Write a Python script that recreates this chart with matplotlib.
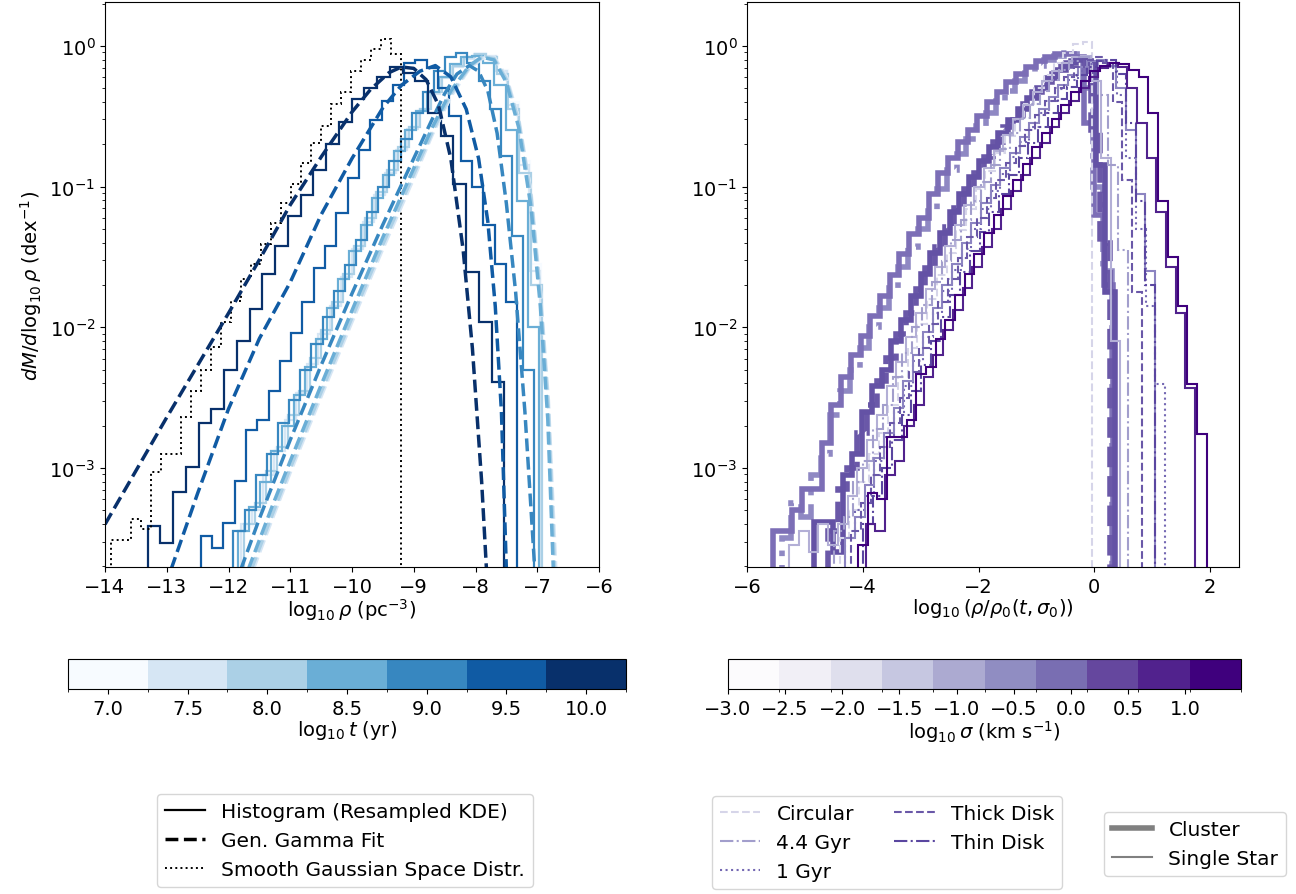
import numpy as np
import matplotlib
matplotlib.use("Agg")
import matplotlib.pyplot as plt
from matplotlib.colors import ListedColormap, BoundaryNorm
from matplotlib.cm import ScalarMappable
from matplotlib.lines import Line2D

plt.rcParams['font.family'] = ['DejaVu Sans']
plt.rcParams['font.size'] = 14

# ---------------- data: left panel (log10 t colour) ----------------
t_vals = [7.0, 7.5, 8.0, 8.5, 9.0, 9.5, 10.0]
t_bounds = [6.75, 7.25, 7.75, 8.25, 8.75, 9.25, 9.75, 10.25]

# histograms: (start edge, bin width, log10 values)
h100_start, h100_width = -13.31, 0.2064
h100_log = [-3.41, -3.53, -3.17, -2.99, -2.68, -2.58, -2.30, -2.10, -1.87, -1.62, -1.42, -1.21, -1.06, -0.88,
            -0.70, -0.54, -0.38, -0.30, -0.22, -0.15, -0.19, -0.25, -0.48, -0.64, -0.98, -1.61, -1.96, -2.39]
h95_start, h95_width = -12.45, 0.183
h95_log = [-3.48, -3.57, -3.39, -3.09, -2.73, -2.66, -2.45, -2.24, -2.04, -1.82, -1.58, -1.42, -1.19, -0.94,
           -0.74, -0.53, -0.39, -0.28, -0.12, -0.10, -0.16, -0.30, -0.50, -0.82, -1.00, -1.27, -1.55, -1.82]
h90_start, h90_width = -11.92, 0.1804
h90_log = [-3.45, -3.30, -3.05, -2.90, -2.68, -2.52, -2.30, -2.12, -1.93, -1.74, -1.56, -1.38, -1.18, -1.00,
           -0.82, -0.66, -0.48, -0.33, -0.18, -0.08, -0.05, -0.12, -0.25, -0.45, -0.78, -1.35, -2.30]
h85_start, h85_width = -11.85, 0.1807
h85_log = [-3.45, -3.28, -3.10, -2.88, -2.70, -2.48, -2.28, -2.08, -1.86, -1.66, -1.46, -1.27, -1.08, -0.92,
           -0.75, -0.60, -0.46, -0.33, -0.22, -0.13, -0.08, -0.07, -0.12, -0.28, -0.60, -1.10, -2.00]
h80_start, h80_width = -11.75, 0.1785
h80_log = [-3.40, -3.25, -3.02, -2.85, -2.62, -2.45, -2.22, -2.02, -1.82, -1.62, -1.42, -1.22, -1.04, -0.88,
           -0.72, -0.58, -0.45, -0.33, -0.22, -0.14, -0.08, -0.06, -0.08, -0.20, -0.45, -0.90, -1.70]
h75_start, h75_width = -11.80, 0.1796
h75_log = [-3.40, -3.30, -3.05, -2.88, -2.66, -2.47, -2.26, -2.05, -1.85, -1.64, -1.44, -1.25, -1.06, -0.90,
           -0.74, -0.59, -0.46, -0.34, -0.23, -0.15, -0.09, -0.06, -0.07, -0.18, -0.42, -0.85, -1.60]
h70_start, h70_width = -11.78, 0.1793
h70_log = [-3.42, -3.28, -3.04, -2.86, -2.64, -2.46, -2.25, -2.04, -1.84, -1.63, -1.43, -1.24, -1.05, -0.89,
           -0.73, -0.58, -0.45, -0.33, -0.22, -0.14, -0.08, -0.05, -0.07, -0.17, -0.40, -0.82, -1.55]

# generalised gamma fits, sampled (x = log10 rho, y = log10 dM/dlogrho)
fit100_x = [-14.0, -13.5, -13.0, -12.5, -12.0, -11.5, -11.0, -10.5, -10.0, -9.7, -9.4, -9.2, -9.0, -8.8, -8.6,
            -8.4, -8.2, -8.05, -7.9, -7.8]
fit100_y = [-3.40, -3.02, -2.64, -2.27, -1.90, -1.52, -1.13, -0.79, -0.47, -0.31, -0.19, -0.15, -0.16, -0.24,
            -0.42, -0.80, -1.45, -2.15, -3.10, -3.90]
fit95_x = [-12.93, -12.5, -12.0, -11.5, -11.0, -10.5, -10.0, -9.5, -9.2, -8.9, -8.65, -8.4, -8.15, -7.95, -7.8,
           -7.68, -7.58, -7.50]
fit95_y = [-3.72, -3.18, -2.58, -2.08, -1.68, -1.20, -0.80, -0.44, -0.28, -0.18, -0.14, -0.22, -0.45, -0.80,
           -1.25, -1.85, -2.60, -3.72]
fit90_x = [-11.80, -11.5, -11.0, -10.5, -10.0, -9.5, -9.0, -8.7, -8.5, -8.3, -8.1, -7.95, -7.8, -7.65, -7.5,
           -7.35, -7.2, -7.04]
fit90_y = [-3.72, -3.36, -2.80, -2.27, -1.76, -1.27, -0.80, -0.52, -0.34, -0.20, -0.14, -0.18, -0.32, -0.62,
           -1.12, -1.75, -2.60, -3.72]
fit85_x = [-11.68, -11.3, -11.0, -10.5, -10.0, -9.5, -9.0, -8.7, -8.4, -8.1, -7.9, -7.7, -7.5, -7.3, -7.1,
           -6.95, -6.83, -6.74]
fit85_y = [-3.72, -3.28, -2.95, -2.41, -1.88, -1.36, -0.87, -0.58, -0.32, -0.14, -0.08, -0.10, -0.26, -0.58,
           -1.15, -1.85, -2.65, -3.72]
fit80_x = [-11.63, -11.3, -11.0, -10.5, -10.0, -9.5, -9.0, -8.7, -8.4, -8.1, -7.9, -7.7, -7.5, -7.3, -7.1,
           -6.95, -6.82, -6.72]
fit80_y = [-3.72, -3.34, -3.00, -2.46, -1.93, -1.41, -0.91, -0.61, -0.34, -0.15, -0.08, -0.09, -0.24, -0.54,
           -1.08, -1.78, -2.58, -3.72]
fit75_x = [-11.60, -11.3, -11.0, -10.5, -10.0, -9.5, -9.0, -8.7, -8.4, -8.1, -7.9, -7.7, -7.5, -7.3, -7.1,
           -6.95, -6.82, -6.70]
fit75_y = [-3.72, -3.37, -3.03, -2.49, -1.96, -1.44, -0.94, -0.63, -0.36, -0.16, -0.09, -0.08, -0.22, -0.52,
           -1.05, -1.74, -2.52, -3.72]
fit70_x = fit75_x
fit70_y = fit75_y

# smooth gaussian space distribution (dotted black)
gauss_start, gauss_width = -13.91, 0.1621
gauss_log = [-3.51, -3.51, -3.36, -3.43, -3.03, -2.90, -2.90, -2.64, -2.45, -2.30, -2.14, -1.96, -1.81, -1.66,
             -1.55, -1.41, -1.26, -1.12, -0.98, -0.83, -0.69, -0.57, -0.41, -0.33, -0.18, -0.10, -0.02, 0.05, -0.06]

# ---------------- data: right panel (log10 sigma colour) ----------------
sigma_ticks = [-3.0, -2.5, -2.0, -1.5, -1.0, -0.5, 0.0, 0.5, 1.0]
sigma_lo, sigma_hi, sigma_nbins = -3.0, 1.49, 10

# cluster (thick) histograms
c1_start, c1_width = -5.55, 0.168
c1_log = [-3.45, -3.45, -3.30, -3.15, -3.15, -2.82, -2.55, -2.35, -2.20, -2.06, -1.92, -1.78, -1.63, -1.48,
          -1.34, -1.22, -1.05, -0.90, -0.80, -0.68, -0.60, -0.50, -0.40, -0.33, -0.26, -0.20, -0.15, -0.11,
          -0.08, -0.06, -0.06, -0.08, -0.55, -1.20, -1.70]
c2_start, c2_width = -4.85, 0.168
c2_log = [-3.38, -3.38, -3.60, -3.05, -2.90, -2.60, -2.42, -2.30, -2.10, -1.95, -1.78, -1.62, -1.47, -1.33,
          -1.18, -1.05, -0.93, -0.82, -0.72, -0.62, -0.53, -0.45, -0.37, -0.30, -0.23, -0.17, -0.12, -0.10,
          -0.12, -0.85, -1.75]
c3_start, c3_width = -5.40, 0.168
c3_log = [-3.50, -3.25, -3.35, -3.05, -2.90, -2.62, -2.45, -2.30, -2.15, -2.00, -1.86, -1.72, -1.57, -1.43,
          -1.30, -1.17, -1.02, -0.88, -0.77, -0.66, -0.57, -0.48, -0.39, -0.32, -0.25, -0.19, -0.14, -0.10,
          -0.07, -0.05, -0.06, -0.30, -1.00, -1.60]
c4_start, c4_width = -4.60, 0.168
c4_log = [-3.45, -3.15, -3.00, -2.75, -2.55, -2.38, -2.22, -2.05, -1.90, -1.73, -1.58, -1.43, -1.29, -1.15,
          -1.02, -0.90, -0.79, -0.68, -0.58, -0.49, -0.41, -0.33, -0.26, -0.20, -0.14, -0.11, -0.12, -0.60, -1.40]

# single star (thin) histograms
circ_start, circ_width = -4.40, 0.168
circ_log = [-3.50, -3.30, -3.10, -2.90, -2.75, -2.55, -2.35, -2.15, -1.98, -1.80, -1.63, -1.47, -1.31, -1.16,
            -1.02, -0.89, -0.76, -0.64, -0.52, -0.41, -0.30, -0.21, -0.12, -0.05, 0.01, 0.03]
g44_start, g44_width = -4.50, 0.1693
g44_log = [-3.45, -3.35, -3.10, -2.95, -2.72, -2.55, -2.35, -2.18, -2.00, -1.84, -1.68, -1.53, -1.38, -1.24,
           -1.10, -0.97, -0.85, -0.73, -0.62, -0.51, -0.41, -0.32, -0.24, -0.17, -0.11, -0.08, -0.10, -0.35,
           -0.85, -1.45]
g1_start, g1_width = -4.30, 0.1673
g1_log = [-3.50, -3.30, -3.20, -2.95, -2.78, -2.60, -2.42, -2.24, -2.07, -1.90, -1.74, -1.59, -1.44, -1.30,
          -1.16, -1.03, -0.91, -0.79, -0.68, -0.58, -0.48, -0.39, -0.31, -0.24, -0.18, -0.13, -0.11, -0.15,
          -0.35, -0.80, -1.30, -1.85, -2.40]
thick_start, thick_width = -4.20, 0.1673
thick_log = [-3.45, -3.25, -3.05, -2.85, -2.68, -2.50, -2.32, -2.15, -1.98, -1.82, -1.66, -1.51, -1.36, -1.22,
             -1.08, -0.95, -0.83, -0.71, -0.60, -0.49, -0.39, -0.30, -0.22, -0.15, -0.10, -0.08, -0.12, -0.40,
             -0.95, -1.75]
thin_start, thin_width = -4.00, 0.1683
thin_log = [-3.40, -3.20, -3.00, -2.80, -2.62, -2.45, -2.27, -2.10, -1.93, -1.77, -1.61, -1.46, -1.32, -1.18,
            -1.05, -0.92, -0.80, -0.69, -0.58, -0.48, -0.38, -0.29, -0.21, -0.15, -0.11, -0.10, -0.20, -0.55,
            -1.10, -1.70]
s1_start, s1_width = -5.27, 0.1682
s1_log = [-3.55, -3.45, -3.60, -3.40, -3.55, -3.40, -3.20, -3.00, -2.80, -2.62, -2.42, -2.25, -2.07, -1.90,
          -1.73, -1.57, -1.42, -1.27, -1.13, -1.00, -0.87, -0.75, -0.63, -0.52, -0.42, -0.33, -0.25, -0.18,
          -0.12, -0.08, -0.07, -0.25, -0.80, -2.10]
s2_start, s2_width = -4.30, 0.1672
s2_log = [-3.50, -3.35, -3.12, -2.93, -2.75, -2.57, -2.38, -2.20, -2.03, -1.86, -1.70, -1.55, -1.40, -1.26,
          -1.12, -0.99, -0.87, -0.76, -0.65, -0.55, -0.45, -0.36, -0.28, -0.21, -0.15, -0.11, -0.10, -0.14,
          -0.30, -0.60, -1.05, -1.60]
s3_start, s3_width = -3.95, 0.1674
s3_log = [-3.40, -3.45, -3.05, -2.95, -2.70, -2.55, -2.35, -2.20, -2.02, -1.88, -1.72, -1.57, -1.43, -1.30,
          -1.16, -1.03, -0.92, -0.80, -0.69, -0.58, -0.48, -0.39, -0.30, -0.22, -0.16, -0.12, -0.15, -0.30,
          -0.55, -0.80, -1.18, -1.57, -1.90, -2.43]
s4_start, s4_width = -4.08, 0.1672
s4_log = [-3.55, -3.18, -3.22, -2.78, -2.78, -2.66, -2.33, -2.28, -2.08, -1.95, -1.77, -1.62, -1.48, -1.33,
          -1.20, -1.07, -0.95, -0.84, -0.72, -0.62, -0.52, -0.42, -0.33, -0.25, -0.18, -0.14, -0.12, -0.13,
          -0.17, -0.22, -0.48, -1.10, -1.50, -1.85, -2.40, -2.76]

# ---------------- figure ----------------
W, H = 1296, 895
fig = plt.figure(figsize=(W / 100, H / 100), dpi=100)
axL = fig.add_axes([105 / W, 1 - 568 / H, 494 / W, 565 / H])
axR = fig.add_axes([747 / W, 1 - 568 / H, 492 / W, 565 / H])

blues = plt.get_cmap('Blues')(np.linspace(0, 1, len(t_vals)))
purples = plt.get_cmap('Purples')(np.linspace(0, 1, sigma_nbins))


def stairs(ax, start, width, logvals, **kw):
    vals = 10 ** np.asarray(logvals)
    edges = start + width * np.arange(len(vals) + 1)
    ax.stairs(vals, edges, baseline=1e-8, fill=False, **kw)


left_hists = [(h70_start, h70_width, h70_log), (h75_start, h75_width, h75_log),
              (h80_start, h80_width, h80_log), (h85_start, h85_width, h85_log),
              (h90_start, h90_width, h90_log), (h95_start, h95_width, h95_log),
              (h100_start, h100_width, h100_log)]
left_fits = [(fit70_x, fit70_y), (fit75_x, fit75_y), (fit80_x, fit80_y), (fit85_x, fit85_y),
             (fit90_x, fit90_y), (fit95_x, fit95_y), (fit100_x, fit100_y)]

for i, ((s, w, v), (fx, fy)) in enumerate(zip(left_hists, left_fits)):
    stairs(axL, s, w, v, color=blues[i], lw=1.6)
    axL.plot(fx, 10 ** np.asarray(fy), ls='--', color=blues[i], lw=2.5)

stairs(axL, gauss_start, gauss_width, gauss_log, color='black', lw=1.4, ls=':')

for ax in (axL, axR):
    ax.set_yscale('log')
    ax.set_ylim(1.98e-4, 2.05)
    ax.tick_params(labelsize=14)

axL.set_xlim(-14, -6)
axL.set_xticks([-14, -13, -12, -11, -10, -9, -8, -7, -6])
axL.set_xlabel(r'$\log_{10}\rho$ (pc$^{-3}$)', fontsize=14, labelpad=0)
axL.set_ylabel(r'$dM/d\log_{10}\rho$ (dex$^{-1}$)', fontsize=14)

# right panel
c_circ, c_44, c_1, c_thick, c_thin = '#d6d5e9', '#a29ecc', '#7468b3', '#6a58a8', '#5a46a0'
thick_lines = [(c3_start, c3_width, c3_log, '#8f88c3', '-.'),
               (c1_start, c1_width, c1_log, '#7c6eb6', '-'),
               (c4_start, c4_width, c4_log, '#6a58a8', '--'),
               (c2_start, c2_width, c2_log, '#6452a5', '-')]
for s, w, v, c, ls in thick_lines:
    stairs(axR, s, w, v, color=c, lw=4, ls=ls)

thin_lines = [(circ_start, circ_width, circ_log, c_circ, '--'),
              (s1_start, s1_width, s1_log, '#b3afd6', '-'),
              (g44_start, g44_width, g44_log, c_44, '-.'),
              (g1_start, g1_width, g1_log, c_1, ':'),
              (s2_start, s2_width, s2_log, '#8c84c1', '-'),
              (thick_start, thick_width, thick_log, c_thick, '--'),
              (thin_start, thin_width, thin_log, c_thin, '-.'),
              (s3_start, s3_width, s3_log, purples[8], '-'),
              (s4_start, s4_width, s4_log, purples[9], '-')]
for s, w, v, c, ls in thin_lines:
    stairs(axR, s, w, v, color=c, lw=1.5, ls=ls)

axR.set_xlim(-6, 2.5)
axR.set_xticks([-6, -4, -2, 0, 2])
axR.set_xlabel(r'$\log_{10}(\rho/\rho_0(t,\sigma_0))$', fontsize=14, labelpad=0)

# colorbars
caxL = fig.add_axes([68 / W, 1 - 690 / H, 558 / W, 30 / H])
smL = ScalarMappable(norm=BoundaryNorm(t_bounds, len(t_vals)), cmap=ListedColormap(blues))
cbL = fig.colorbar(smL, cax=caxL, orientation='horizontal', ticks=t_vals)
cbL.ax.set_xticklabels([f'{v:.1f}' for v in t_vals])
cbL.ax.tick_params(labelsize=14)
cbL.ax.set_xlabel(r'$\log_{10}t$ (yr)', fontsize=14, labelpad=0)

caxR = fig.add_axes([728 / W, 1 - 690 / H, 513 / W, 30 / H])
s_bounds = np.linspace(sigma_lo, sigma_hi, sigma_nbins + 1)
smR = ScalarMappable(norm=BoundaryNorm(s_bounds, sigma_nbins), cmap=ListedColormap(purples))
cbR = fig.colorbar(smR, cax=caxR, orientation='horizontal', ticks=sigma_ticks)
cbR.ax.set_xticklabels([f'{v:.1f}'.replace('-', '\u2212') for v in sigma_ticks])
cbR.ax.tick_params(labelsize=14)
cbR.ax.set_xlabel(r'$\log_{10}\sigma$ (km s$^{-1}$)', fontsize=14, labelpad=0)

# legends
hL = [Line2D([], [], color='black', lw=1.6, ls='-'),
      Line2D([], [], color='black', lw=2.5, ls='--'),
      Line2D([], [], color='black', lw=1.4, ls=':')]
fig.legend(hL, ['Histogram (Resampled KDE)', 'Gen. Gamma Fit', 'Smooth Gaussian Space Distr.'],
           loc='upper left', bbox_to_anchor=(157 / W, 1 - 795 / H), borderaxespad=0, fontsize=14.5)

hR = [Line2D([], [], color=c_circ, lw=1.5, ls='--'),
      Line2D([], [], color=c_44, lw=1.5, ls='-.'),
      Line2D([], [], color=c_1, lw=1.5, ls=':'),
      Line2D([], [], color=c_thick, lw=1.5, ls='--'),
      Line2D([], [], color=c_thin, lw=1.5, ls='-.')]
fig.legend(hR, ['Circular', '4.4 Gyr', '1 Gyr', 'Thick Disk', 'Thin Disk'], ncol=2,
           loc='upper left', bbox_to_anchor=(712 / W, 1 - 797 / H), borderaxespad=0, fontsize=14.5)

hS = [Line2D([], [], color='gray', lw=4), Line2D([], [], color='gray', lw=1.5)]
fig.legend(hS, ['Cluster', 'Single Star'], loc='upper left', bbox_to_anchor=(1104 / W, 1 - 813 / H),
           borderaxespad=0, fontsize=14.5)

fig.savefig('out.png', dpi=100)
